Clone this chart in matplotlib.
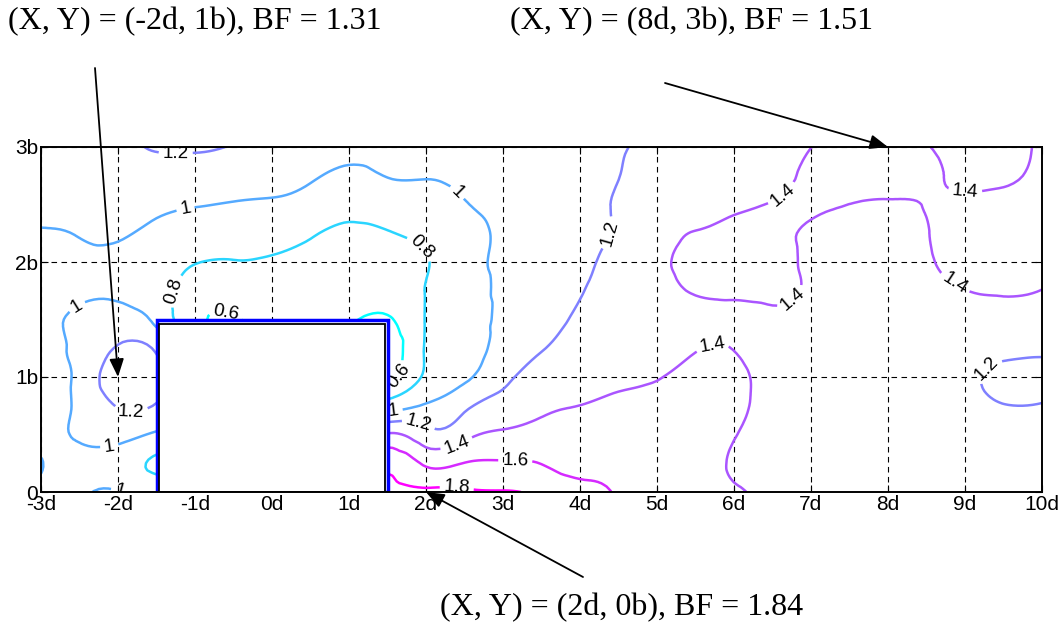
import matplotlib
matplotlib.use("Agg")
import matplotlib.pyplot as plt
import matplotlib.tri as mtri
import numpy as np
from matplotlib.patches import Rectangle

# measurement grid: x in d (-3d .. 10d), y in b (0 .. 3b)
X_POS = np.arange(-3.0, 10.01, 0.5)
Y_POS = np.arange(0.0, 3.01, 0.25)

# BF, one profile per x position, from y=0 up to y=3b
BF_COLUMNS = [
    [0.97, 1.005, 0.95, 0.91, 0.91, 0.91, 0.93, 0.94, 0.96, 0.99, 1.03, 1.06, 1.08],   # -3.0
    [0.97, 0.96, 1.02, 1.04, 1.05, 1.05, 1.04, 0.97, 0.96, 1.01, 1.06, 1.10, 1.13],    # -2.5
    [1.01, 0.92, 1.06, 1.21, 1.31, 1.22, 1.08, 0.97, 0.95, 1.03, 1.09, 1.14, 1.17],    # -2.0
    [0.95, 0.77, 0.97, 1.19, 1.24, 1.17, 0.95, 0.87, 0.87, 0.94, 1.05, 1.14, 1.21],    # -1.5
    [0.95, 0.82, 0.88, 0.98, 0.99, 0.85, 0.65, 0.74, 0.805, 0.91, 1.01, 1.12, 1.22],   # -1.0
    [1.05, 0.92, 0.85, 0.78, 0.75, 0.65, 0.59, 0.74, 0.795, 0.90, 0.99, 1.10, 1.19],   # -0.5
    [1.19, 1.02, 0.90, 0.79, 0.70, 0.64, 0.62, 0.70, 0.78, 0.88, 0.98, 1.06, 1.12],    # 0.0
    [1.39, 1.19, 1.01, 0.85, 0.70, 0.61, 0.63, 0.68, 0.74, 0.82, 0.93, 1.02, 1.08],    # 0.5
    [1.61, 1.41, 1.15, 0.90, 0.70, 0.59, 0.62, 0.66, 0.70, 0.76, 0.87, 0.97, 1.04],    # 1.0
    [1.86, 1.75, 1.42, 0.90, 0.55, 0.50, 0.58, 0.70, 0.72, 0.79, 0.90, 1.005, 1.06],   # 1.5
    [1.84, 1.57, 1.27, 1.02, 0.84, 0.82, 0.81, 0.805, 0.79, 0.84, 0.92, 1.01, 1.07],   # 2.0
    [1.82, 1.605, 1.34, 1.16, 0.97, 0.94, 0.92, 0.92, 0.92, 0.93, 0.99, 1.04, 1.09],   # 2.5
    [1.81, 1.62, 1.43, 1.27, 1.15, 1.07, 1.05, 1.04, 1.04, 1.03, 1.05, 1.08, 1.12],    # 3.0
    [1.76, 1.595, 1.46, 1.36, 1.28, 1.19, 1.14, 1.11, 1.10, 1.10, 1.11, 1.13, 1.15],   # 3.5
    [1.68, 1.52, 1.45, 1.401, 1.34, 1.28, 1.23, 1.19, 1.17, 1.16, 1.17, 1.17, 1.18],   # 4.0
    [1.58, 1.53, 1.48, 1.43, 1.37, 1.33, 1.30, 1.27, 1.25, 1.22, 1.21, 1.198, 1.19],   # 4.5
    [1.52, 1.50, 1.47, 1.43, 1.395, 1.36, 1.35, 1.36, 1.37, 1.35, 1.30, 1.27, 1.25],   # 5.0
    [1.48, 1.47, 1.46, 1.45, 1.43, 1.395, 1.38, 1.405, 1.42, 1.402, 1.37, 1.33, 1.30], # 5.5
    [1.415, 1.385, 1.405, 1.42, 1.42, 1.398, 1.385, 1.41, 1.425, 1.415, 1.39, 1.36, 1.33],  # 6.0
    [1.37, 1.36, 1.37, 1.38, 1.38, 1.375, 1.39, 1.41, 1.415, 1.41, 1.402, 1.38, 1.36], # 6.5
    [1.34, 1.34, 1.34, 1.35, 1.36, 1.37, 1.38, 1.39, 1.39, 1.395, 1.405, 1.41, 1.399], # 7.0
    [1.32, 1.32, 1.32, 1.32, 1.33, 1.34, 1.35, 1.36, 1.37, 1.385, 1.3995, 1.43, 1.46], # 7.5
    [1.30, 1.30, 1.30, 1.30, 1.31, 1.32, 1.34, 1.36, 1.37, 1.385, 1.392, 1.45, 1.51],  # 8.0
    [1.28, 1.28, 1.28, 1.28, 1.29, 1.31, 1.34, 1.37, 1.39, 1.397, 1.403, 1.42, 1.41],  # 8.5
    [1.26, 1.26, 1.25, 1.24, 1.23, 1.26, 1.33, 1.398, 1.43, 1.44, 1.42, 1.38, 1.37],   # 9.0
    [1.24, 1.23, 1.22, 1.203, 1.17, 1.24, 1.34, 1.41, 1.43, 1.44, 1.43, 1.38, 1.36],   # 9.5
    [1.23, 1.22, 1.21, 1.205, 1.16, 1.23, 1.33, 1.398, 1.43, 1.45, 1.45, 1.43, 1.42],  # 10.0
]

LEVELS = [0.6, 0.8, 1.0, 1.2, 1.4, 1.6, 1.8]

X_TICKS = np.arange(-3, 11)
X_TICK_LABELS = [f"{t}d" for t in X_TICKS]
Y_TICKS = [0, 1, 2, 3]
Y_TICK_LABELS = ["0", "1b", "2b", "3b"]

# building block in front of the grid
BLOCK_X0, BLOCK_X1, BLOCK_H = -1.5, 1.5, 1.5

# where the contour labels sit in the reference
LABEL_SPOTS = [
    (-1.25, 2.98), (-1.12, 2.45), (-1.33, 1.76), (-2.53, 1.61),
    (1.98, 2.16), (2.35, 2.57), (-1.83, 0.70), (-2.10, 0.34),
    (-1.97, 0.02), (-0.62, 1.50),
    (1.66, 1.00), (1.58, 0.70), (1.88, 0.56), (2.40, 0.41),
    (3.16, 0.25), (2.40, 0.04), (4.34, 2.26), (6.70, 2.53),
    (6.77, 1.67), (5.73, 1.24), (8.86, 1.81), (9.00, 2.60), (9.37, 1.00),
]

# marked points
POINT_X = [-2, 8, 2]
POINT_Y = [1, 3, 0]
POINT_BF = [1.31, 1.51, 1.84]
# text anchor and arrow tail, figure px from left/top
TEXT_PX = [(8, 22), (510, 22), (440, 608)]
TAIL_PX = [(95, 68), (665, 83), (583, 577)]

W, H = 1064, 629


def main() -> None:
    plt.rcParams["font.family"] = ["Liberation Sans", "DejaVu Sans"]

    fig = plt.figure(figsize=(W / 100, H / 100), dpi=100)
    ax = fig.add_axes([41 / W, 137 / H, 1001 / W, 345 / H])

    xx, yy = np.meshgrid(X_POS, Y_POS)
    zz = np.array(BF_COLUMNS).T
    nx, ny = len(X_POS), len(Y_POS)
    tris = []
    for j in range(ny - 1):
        for i in range(nx - 1):
            a = j * nx + i
            b, c, d = a + 1, a + nx, a + nx + 1
            tris.append([a, b, d])
            tris.append([a, d, c])
    tri = mtri.Triangulation(xx.ravel(), yy.ravel(), np.array(tris))
    refiner = mtri.UniformTriRefiner(tri)
    tri_f, z_f = refiner.refine_field(zz.ravel(), subdiv=3)

    cs = ax.tricontour(tri_f, z_f, levels=LEVELS, cmap="cool",
                       vmin=0.6, vmax=1.8, linewidths=1.8, zorder=2)
    ax.clabel(cs, manual=LABEL_SPOTS, inline=True, fontsize=13.5,
              colors="k", fmt="%g", inline_spacing=4)

    ax.add_patch(Rectangle((BLOCK_X0, 0), BLOCK_X1 - BLOCK_X0, BLOCK_H,
                           fc="white", ec="blue", lw=2.5, zorder=5))
    ax.add_patch(Rectangle((BLOCK_X0 + 0.03, 0), BLOCK_X1 - BLOCK_X0 - 0.06,
                           BLOCK_H - 0.04, fc="white", ec="black", lw=1.3,
                           zorder=6))

    ax.set_xlim(-3, 10)
    ax.set_ylim(0, 3)
    ax.set_xticks(X_TICKS, labels=X_TICK_LABELS)
    ax.set_yticks(Y_TICKS, labels=Y_TICK_LABELS)
    ax.tick_params(direction="in", length=5, top=True, right=True,
                   labelsize=15, pad=2)
    ax.grid(True, color="black", linestyle=(0, (5, 4)), linewidth=0.8)
    for spine in ax.spines.values():
        spine.set_linewidth(1.4)
        spine.set_zorder(7)

    for x, y, bf, (tx, ty), (tail_x, tail_y) in zip(
            POINT_X, POINT_Y, POINT_BF, TEXT_PX, TAIL_PX):
        fig.text(tx / W, 1 - ty / H, f"(X, Y) = ({x}d, {y}b), BF = {bf}",
                 family="Liberation Serif", fontsize=23, va="center", ha="left")
        ax.annotate("", xy=(x, y), xycoords="data",
                    xytext=(tail_x, H - tail_y), textcoords="figure pixels",
                    arrowprops=dict(arrowstyle="-|>,head_length=0.55,head_width=0.22",
                                    color="black", lw=1.3, mutation_scale=20,
                                    shrinkA=0, shrinkB=0),
                    annotation_clip=False, zorder=8)

    fig.savefig("out.png", dpi=100)


if __name__ == "__main__":
    main()
